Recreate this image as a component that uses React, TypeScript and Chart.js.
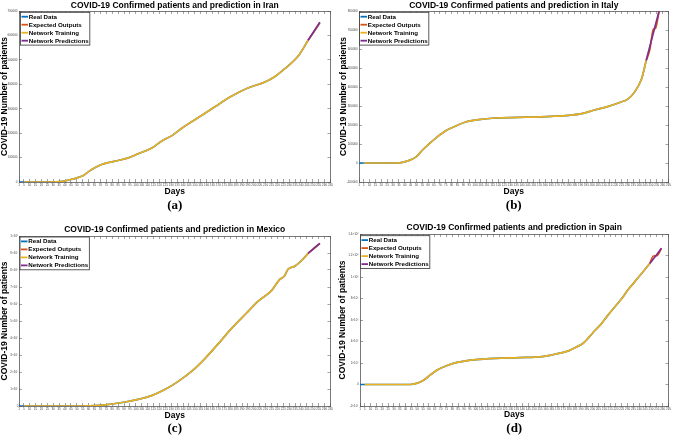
import React, { useEffect, useRef } from "react";
import { Chart, registerables } from "chart.js";
Chart.register(...registerables);

const FONT = "'Liberation Sans', Arial, sans-serif";
const SERIF = "'Liberation Serif', 'Times New Roman', serif";

const seriesLabels = ["Real Data", "Expected Outputs", "Network Training", "Network Predictions"];
const seriesColors = ["#0072BD", "#D95319", "#EDB120", "#7E2F8E"];

const dayMin = 1;
const dayMax = 265;
const dayStep = 5;
const trainingStartDay = 5;

// Iran
const iranDays = [1, 5, 26, 38, 43, 49, 56, 60, 66, 71, 77, 85, 93, 102, 114, 122, 131, 139, 153, 167, 181, 195, 209, 218, 226, 238, 246];
const iranCases = [0, 0, 0, 2750, 8250, 15000, 27500, 42600, 60500, 71500, 79800, 88000, 97600, 115500, 140000, 167700, 191000, 220000, 264000, 308000, 350600, 385000, 408000, 432000, 463000, 518000, 580000];
const iranTestDays = [246, 251, 256];
const iranExpected = [580000, 615000, 652000];
const iranPredicted = [580000, 617000, 654000];

// Italy
const italyDays = [1, 5, 33, 38, 44, 50, 55, 61, 67, 75, 84, 92, 103, 117, 137, 165, 180, 191, 202, 213, 224, 230, 236, 242, 246];
const italyCases = [0, 0, 0, 3500, 14000, 33600, 67000, 102000, 134000, 170000, 196000, 215600, 228000, 236800, 240000, 245600, 251000, 260000, 279000, 297000, 320000, 335000, 373000, 442000, 540000];
const italyTestDays = [246, 249, 252, 254, 257];
const italyExpected = [540000, 594000, 703000, 710000, 800000];
const italyPredicted = [540000, 612000, 683000, 730000, 800000];

// Mexico
const mexicoDays = [1, 5, 54, 69, 80, 91, 102, 114, 125, 136, 148, 159, 170, 181, 193, 204, 215, 222, 226, 229, 235, 241, 246];
const mexicoCases = [0, 0, 0, 3900, 11800, 23500, 39200, 62700, 98000, 145000, 208000, 282000, 367000, 455000, 541000, 618000, 678500, 745000, 765000, 804000, 823500, 858800, 898000];
const mexicoTestDays = [246, 251, 256];
const mexicoExpected = [898000, 928000, 957000];
const mexicoPredicted = [898000, 927000, 957000];

// Spain
const spainDays = [1, 5, 44, 50, 55, 61, 67, 75, 84, 89, 100, 117, 137, 157, 165, 174, 180, 185, 192, 197, 202, 208, 213, 219, 225, 230, 236, 242, 249];
const spainCases = [0, 0, 0, 12500, 37000, 87000, 134000, 175000, 206000, 215000, 231000, 243000, 250000, 259000, 274500, 296000, 315000, 343000, 384000, 440000, 502000, 571000, 643000, 721000, 799000, 877000, 955000, 1033000, 1126000];
const spainTestDays = [249, 252, 255, 259];
const spainExpected = [1126000, 1195000, 1198000, 1267000];
const spainPredicted = [1126000, 1168000, 1210000, 1267000];

const SUP: Record<string, string> = { "0": "⁰", "1": "¹", "2": "²", "3": "³", "4": "⁴", "5": "⁵", "6": "⁶", "7": "⁷", "8": "⁸", "9": "⁹", "-": "⁻" };
const plainFmt = (v: number) => String(v);
const sciFmt = (v: number) => {
  if (v === 0) return "0";
  const e = Math.floor(Math.log10(Math.abs(v)) + 1e-9);
  const m = +(v / Math.pow(10, e)).toFixed(1);
  return `${m}×10${String(e).split("").map((c) => SUP[c]).join("")}`;
};

type PanelDef = {
  country: string;
  caption: string;
  days: number[];
  cases: number[];
  testDays: number[];
  expected: number[];
  predicted: number[];
  yMin: number;
  yMax: number;
  yStep: number;
  fmt: (v: number) => string;
  layout: {
    left: number; top: number; width: number; height: number;
    axisW: number; padRight: number;
    titleTop: number; titleBottom: number;
    xH: number; capTop: number; capBottom: number;
    yTitlePad: number; yTickPad: number;
    legendX: number; legendY: number;
  };
};

const panels: PanelDef[] = [
  {
    country: "Iran", caption: "(a)",
    days: iranDays, cases: iranCases, testDays: iranTestDays, expected: iranExpected, predicted: iranPredicted,
    yMin: 0, yMax: 700000, yStep: 100000, fmt: plainFmt,
    layout: { left: 0, top: 0, width: 337, height: 216, axisW: 19, padRight: 4, titleTop: 0.4, titleBottom: 0.4, xH: 14.8, capTop: 1.4, capBottom: 2.2, yTitlePad: 0, yTickPad: 4.5, legendX: 1.5, legendY: 1.3 },
  },
  {
    country: "Italy", caption: "(b)",
    days: italyDays, cases: italyCases, testDays: italyTestDays, expected: italyExpected, predicted: italyPredicted,
    yMin: -100000, yMax: 800000, yStep: 100000, fmt: plainFmt,
    layout: { left: 337, top: 0, width: 338, height: 216, axisW: 22, padRight: 4, titleTop: 0.4, titleBottom: 0.4, xH: 14.8, capTop: 1.4, capBottom: 2.2, yTitlePad: 1.6, yTickPad: 4.3, legendX: 0.5, legendY: 1.3 },
  },
  {
    country: "Mexico", caption: "(c)",
    days: mexicoDays, cases: mexicoCases, testDays: mexicoTestDays, expected: mexicoExpected, predicted: mexicoPredicted,
    yMin: 0, yMax: 1000000, yStep: 100000, fmt: sciFmt,
    layout: { left: 0, top: 215, width: 337, height: 222, axisW: 19, padRight: 4, titleTop: 9.4, titleBottom: 1.4, xH: 14.6, capTop: 0.1, capBottom: 0.7, yTitlePad: 0, yTickPad: 3.7, legendX: 1, legendY: 1 },
  },
  {
    country: "Spain", caption: "(d)",
    days: spainDays, cases: spainCases, testDays: spainTestDays, expected: spainExpected, predicted: spainPredicted,
    yMin: -200000, yMax: 1400000, yStep: 200000, fmt: sciFmt,
    layout: { left: 337, top: 215, width: 338, height: 222, axisW: 23, padRight: 4, titleTop: 7.9, titleBottom: 0.9, xH: 14.1, capTop: 0.8, capBottom: 0.5, yTitlePad: 0.9, yTickPad: 4.3, legendX: 0.5, legendY: 1.7 },
  },
];

const insideLegend = {
  id: "insideLegend",
  afterDraw(chart: any, _args: any, opts: any) {
    const { ctx, chartArea } = chart;
    const items = chart.data.datasets;
    ctx.save();
    ctx.font = `bold ${opts.fontSize}px ${FONT}`;
    const textW = Math.max(...items.map((d: any) => ctx.measureText(d.label).width));
    const x0 = chartArea.left + opts.offsetX;
    const y0 = chartArea.top + opts.offsetY;
    const w = opts.textX + textW + 1.2;
    const h = items.length * opts.rowH + opts.padY * 2;
    ctx.fillStyle = "#ffffff";
    ctx.fillRect(x0, y0, w, h);
    ctx.strokeStyle = "#333333";
    ctx.lineWidth = 0.8;
    ctx.strokeRect(x0, y0, w, h);
    items.forEach((d: any, i: number) => {
      const cy = y0 + opts.padY + opts.rowH * (i + 0.5);
      ctx.strokeStyle = d.borderColor;
      ctx.lineWidth = 1.8;
      ctx.beginPath();
      ctx.moveTo(x0 + opts.lineX0, cy);
      ctx.lineTo(x0 + opts.lineX1, cy);
      ctx.stroke();
      ctx.fillStyle = "#000000";
      ctx.textBaseline = "middle";
      ctx.textAlign = "left";
      ctx.fillText(d.label, x0 + opts.textX, cy + 0.3);
    });
    ctx.restore();
  },
};

function makeConfig(p: PanelDef): any {
  const L = p.layout;
  const pts = (xs: number[], ys: number[]) => xs.map((x, i) => ({ x, y: ys[i] }));
  const lineStyle = { borderWidth: 1.7, pointRadius: 0, fill: false, cubicInterpolationMode: "monotone" };
  const gridStyle = { drawOnChartArea: false, drawTicks: true, tickLength: -3, color: "#666666", lineWidth: 0.6 };
  const borderStyle = { display: true, color: "#555555", width: 0.8 };
  const tickFont = { size: 3, family: FONT };
  return {
    type: "line",
    data: {
      datasets: [
        { label: seriesLabels[0], data: pts(p.days, p.cases), borderColor: seriesColors[0], order: 4, ...lineStyle },
        { label: seriesLabels[1], data: pts(p.testDays, p.expected), borderColor: seriesColors[1], order: 3, ...lineStyle },
        { label: seriesLabels[2], data: pts(p.days, p.cases).filter((q) => q.x >= trainingStartDay), borderColor: seriesColors[2], order: 2, ...lineStyle },
        { label: seriesLabels[3], data: pts(p.testDays, p.predicted), borderColor: seriesColors[3], order: 1, ...lineStyle },
      ],
    },
    options: {
      animation: false,
      responsive: false,
      devicePixelRatio: 1,
      layout: { padding: { left: 0, right: L.padRight, top: 0, bottom: 0 } },
      plugins: {
        legend: { display: false },
        tooltip: { enabled: false },
        title: {
          display: true,
          text: `COVID-19 Confirmed patients and prediction in ${p.country}`,
          fullSize: false,
          color: "#000000",
          font: { size: 8.5, weight: "bold", family: FONT, lineHeight: 1.2 },
          padding: { top: L.titleTop, bottom: L.titleBottom },
        },
        subtitle: {
          display: true,
          position: "bottom",
          text: p.caption,
          fullSize: false,
          color: "#000000",
          font: { size: 13, weight: "bold", family: SERIF, lineHeight: 1.2 },
          padding: { top: L.capTop, bottom: L.capBottom },
        },
        insideLegend: { fontSize: 6.2, offsetX: L.legendX, offsetY: L.legendY, rowH: 8, padY: 0.4, lineX0: 1, lineX1: 7.5, textX: 8.3 },
      },
      scales: {
        x: {
          type: "linear", position: "bottom", min: dayMin, max: dayMax,
          ticks: { stepSize: dayStep, autoSkip: false, maxRotation: 0, minRotation: 0, font: tickFont, color: "#444444", padding: 4 },
          grid: gridStyle, border: borderStyle,
          title: { display: true, text: "Days", color: "#000000", font: { size: 8.5, weight: "bold", family: FONT, lineHeight: 1.2 }, padding: { top: 0, bottom: 0 } },
          afterFit: (s: any) => { s.height = L.xH; },
        },
        x2: {
          type: "linear", position: "top", min: dayMin, max: dayMax,
          ticks: { stepSize: dayStep, display: false },
          grid: gridStyle, border: borderStyle,
          afterFit: (s: any) => { s.height = 0; },
        },
        y: {
          type: "linear", position: "left", min: p.yMin, max: p.yMax,
          ticks: { stepSize: p.yStep, autoSkip: false, font: tickFont, color: "#444444", padding: L.yTickPad, callback: (v: any) => p.fmt(Number(v)) },
          grid: gridStyle, border: borderStyle,
          title: { display: true, text: "COVID-19 Number of patients", color: "#000000", font: { size: 8.5, weight: "bold", family: FONT, lineHeight: 1.2 }, padding: { top: L.yTitlePad, bottom: 0 } },
          afterFit: (s: any) => { s.width = L.axisW; },
        },
        y2: {
          type: "linear", position: "right", min: p.yMin, max: p.yMax,
          ticks: { stepSize: p.yStep, display: false },
          grid: gridStyle, border: borderStyle,
          afterFit: (s: any) => { s.width = 0; },
        },
      },
    },
    plugins: [insideLegend],
  };
}

function Panel({ p }: { p: PanelDef }) {
  const ref = useRef<HTMLCanvasElement>(null);
  useEffect(() => {
    const chart = new Chart(ref.current as HTMLCanvasElement, makeConfig(p));
    return () => chart.destroy();
  }, [p]);
  const L = p.layout;
  return (
    <canvas
      ref={ref}
      width={L.width}
      height={L.height}
      style={{ position: "absolute", left: L.left, top: L.top, width: L.width, height: L.height }}
    />
  );
}

export default function App() {
  return (
    <div style={{ position: "fixed", left: 0, top: 0, width: 675, height: 437, background: "#ffffff", overflow: "hidden" }}>
      {panels.map((p) => (
        <Panel key={p.country} p={p} />
      ))}
    </div>
  );
}
